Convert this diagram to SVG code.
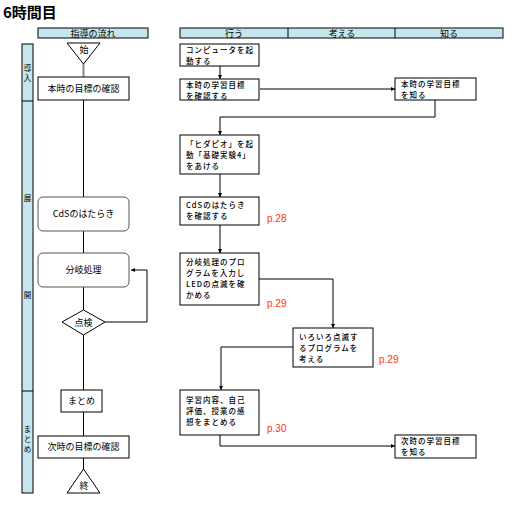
<svg xmlns="http://www.w3.org/2000/svg" width="520" height="520" viewBox="0 0 520 520">
<style>
text{font-family:"Noto Sans CJK JP","Liberation Sans",sans-serif;font-size:9px;fill:#000}
.t{font-size:15px;font-weight:bold}
.h{text-anchor:middle}
.c{text-anchor:middle}
.s{text-anchor:middle;font-size:7.5px}
.m{font-size:7.5px;letter-spacing:1px;font-weight:500}
.bar{fill:#c6e6ee;stroke:#000;stroke-width:1}
.box{fill:#fff;stroke:#000;stroke-width:1}
.rbox{fill:#fff;stroke:#555;stroke-width:1}
.ln{fill:none;stroke:#000;stroke-width:1}
.gl{fill:none;stroke:#888;stroke-width:2}
.pg{fill:#ff3300;font-family:"Liberation Sans",sans-serif;font-size:10px}
</style>
<defs>
<marker id="a" viewBox="0 0 6 6" refX="6" refY="3" markerWidth="4" markerHeight="4" orient="auto" markerUnits="userSpaceOnUse"><path d="M0,0L6,3L0,6z" fill="#000"/></marker>
</defs>
<text class="t" x="3" y="18">6時間目</text>
<g id="headers">
<rect class="bar" x="38" y="28" width="110" height="10"/>
<text class="h" x="93" y="37">指導の流れ</text>
<rect class="bar" x="180" y="28" width="323" height="10"/>
<line class="ln" x1="288" y1="28" x2="288" y2="38"/>
<line class="ln" x1="395" y1="28" x2="395" y2="38"/>
<text class="h" x="234" y="37">行う</text>
<text class="h" x="342" y="37">考える</text>
<text class="h" x="449" y="37">知る</text>
</g>
<g id="stages">
<rect class="bar" x="22" y="44" width="11" height="449"/>
<line class="ln" x1="22" y1="101" x2="33" y2="101"/>
<line class="ln" x1="22" y1="391" x2="33" y2="391"/>
<text class="s" x="27.5" y="71">導<tspan x="27.5" dy="10">入</tspan></text>
<text class="s" x="27.5" y="201">展</text>
<text class="s" x="27.5" y="298">開</text>
<text class="s" x="27.5" y="432">ま<tspan x="27.5" dy="10">と</tspan><tspan x="27.5" dy="10">め</tspan></text>
</g>
<g id="connectors">
<line class="gl" x1="83.5" y1="64" x2="83.5" y2="77"/>
<line class="ln" x1="83.5" y1="100" x2="83.5" y2="197"/>
<line class="ln" x1="83.5" y1="231" x2="83.5" y2="253"/>
<line class="ln" x1="83.5" y1="287" x2="83.5" y2="310"/>
<line class="ln" x1="83.5" y1="335" x2="83.5" y2="390"/>
<line class="ln" x1="83.5" y1="412" x2="83.5" y2="436"/>
<line class="ln" x1="83.5" y1="458" x2="83.5" y2="469"/>
<polyline class="ln" points="105,322 147,322 147,270 131,270" marker-end="url(#a)"/>
<line class="ln" x1="220" y1="66" x2="220" y2="79" marker-end="url(#a)"/>
<line class="ln" x1="260" y1="89" x2="395" y2="89" marker-end="url(#a)"/>
<polyline class="ln" points="435,100 435,117 220,117 220,135" marker-end="url(#a)"/>
<line class="ln" x1="220" y1="174" x2="220" y2="197" marker-end="url(#a)"/>
<line class="ln" x1="220" y1="225" x2="220" y2="253" marker-end="url(#a)"/>
<polyline class="ln" points="259,279 333,279 333,328" marker-end="url(#a)"/>
<polyline class="ln" points="293,347 221,347 221,390" marker-end="url(#a)"/>
<polyline class="ln" points="220,435 220,446 395,446" marker-end="url(#a)"/>
</g>
<g id="start">
<polygon class="box" points="67,43 100,43 83.5,64"/>
<text class="c" x="84" y="53">始</text>
</g>
<g id="goal1">
<rect class="box" x="38" y="77" width="91" height="23"/>
<text class="c" x="83.5" y="92">本時の目標の確認</text>
</g>
<g id="cds">
<rect class="rbox" x="38" y="197" width="91" height="34" rx="5"/>
<text class="c" x="83.5" y="217">CdSのはたらき</text>
</g>
<g id="branch">
<rect class="rbox" x="38" y="253" width="91" height="34" rx="5"/>
<text class="c" x="83.5" y="273">分岐処理</text>
</g>
<g id="check">
<polygon class="box" points="62,322 83.5,310 105,322 83.5,335"/>
<text class="c" x="83.5" y="326">点検</text>
</g>
<g id="summary">
<rect class="box" x="61" y="390" width="41" height="22"/>
<text class="c" x="81.5" y="404">まとめ</text>
</g>
<g id="goal2">
<rect class="box" x="38" y="436" width="91" height="22"/>
<text class="c" x="83.5" y="450">次時の目標の確認</text>
</g>
<g id="end">
<polygon class="box" points="83.5,469 100,493 67,493"/>
<text class="c" x="84" y="489">終</text>
</g>
<g id="r1">
<rect class="box" x="180" y="44" width="79" height="22"/>
<text class="m" x="186" y="53">コンピュータを起<tspan x="186" dy="11">動する</tspan></text>
</g>
<g id="r2">
<rect class="box" x="180" y="79" width="79" height="21"/>
<text class="m" x="186" y="88">本時の学習目標<tspan x="186" dy="11">を確認する</tspan></text>
</g>
<g id="k1">
<rect class="box" x="395" y="78" width="81" height="22"/>
<text class="m" x="401" y="87">本時の学習目標<tspan x="401" dy="11">を知る</tspan></text>
</g>
<g id="r3">
<rect class="box" x="180" y="135" width="79" height="39"/>
<text class="m" x="186" y="147">「ヒダピオ」を起<tspan x="186" dy="11">動「基礎実験4」</tspan><tspan x="186" dy="11">をあける</tspan></text>
</g>
<g id="r4">
<rect class="box" x="180" y="197" width="79" height="28"/>
<text class="m" x="186" y="208">CdSのはたらき<tspan x="186" dy="11">を確認する</tspan></text>
<text class="pg" x="267" y="222">p.28</text>
</g>
<g id="r5">
<rect class="box" x="180" y="253" width="79" height="52"/>
<text class="m" x="186" y="265">分岐処理のプロ<tspan x="186" dy="11">グラムを入力し</tspan><tspan x="186" dy="11">LEDの点滅を確</tspan><tspan x="186" dy="11">かめる</tspan></text>
<text class="pg" x="267" y="307">p.29</text>
</g>
<g id="t1">
<rect class="box" x="293" y="328" width="80" height="39"/>
<text class="m" x="299" y="340">いろいろ点滅す<tspan x="299" dy="11">るプログラムを</tspan><tspan x="299" dy="11">考える</tspan></text>
<text class="pg" x="379" y="363">p.29</text>
</g>
<g id="r6">
<rect class="box" x="180" y="390" width="79" height="45"/>
<text class="m" x="186" y="403">学習内容、自己<tspan x="186" dy="11">評価、授業の感</tspan><tspan x="186" dy="11">想をまとめる</tspan></text>
<text class="pg" x="267" y="432">p.30</text>
</g>
<g id="k2">
<rect class="box" x="395" y="435" width="81" height="23"/>
<text class="m" x="401" y="444">次時の学習目標<tspan x="401" dy="11">を知る</tspan></text>
</g>
</svg>
